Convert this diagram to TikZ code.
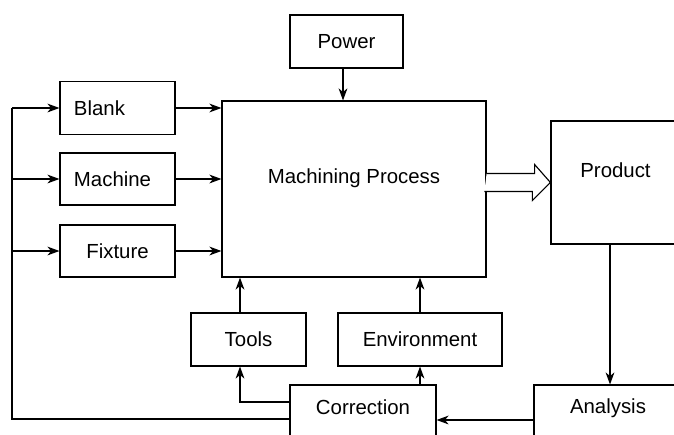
\documentclass[tikz,border=0pt]{standalone}
\usepackage{fontspec}
\setmainfont{Liberation Sans}
\usetikzlibrary{arrows.meta}

\tikzset{
  txt/.style={font=\fontsize{14.5}{17}\selectfont},
  box/.style={draw, line width=0.8pt, inner sep=0pt, txt},
  leftbox/.style={box, inner xsep=0.35cm, text width=2.175cm, align=left},
  line/.style={line width=0.8pt},
  flow/.style={line, -{Stealth[length=0.3cm, width=0.22cm, inset=0.09cm]}},
}

\begin{document}
\begin{tikzpicture}[x=0.025cm, y=-0.025cm]
\clip (0,0) rectangle (674,434);

% boxes
\node[box, minimum width=2.825cm, minimum height=1.325cm] (power) at (346.5,41.5) {Power};
\node[box, minimum width=6.6cm, minimum height=4.4cm,
  label={[txt, yshift=0.275cm]center:Machining Process}] (proc) at (354,189) {};
\node[leftbox, minimum width=2.875cm, minimum height=1.325cm] (blank) at (117.5,108) {Blank};
\node[leftbox, minimum width=2.875cm, minimum height=1.3cm] (machine) at (117.5,179) {Machine};
\node[box, minimum width=2.875cm, minimum height=1.3cm] (fixture) at (117.5,251) {Fixture};
\node[box, minimum width=2.875cm, minimum height=1.325cm] (tools) at (248.5,339.5) {Tools};
\node[box, minimum width=4.1cm, minimum height=1.325cm] (env) at (420,339.5) {Environment};
\node[box, minimum width=3.65cm, minimum height=1.325cm,
  label={[txt, yshift=0.1cm]center:Correction}] (corr) at (363,411.5) {};
\node[box, minimum width=3.7cm, minimum height=1.325cm,
  label={[txt, yshift=0.08cm]center:Analysis}] (anal) at (608,411.5) {};
\node[box, minimum width=3.225cm, minimum height=3.075cm,
  label={[txt, yshift=0.3cm]center:Product}] (prod) at (615.5,182.5) {};

% inputs
\draw[flow] (power.south -| 343,0) -- (proc.north -| 343,0);
\draw[flow] (blank.east) -- (blank.east -| proc.west);
\draw[flow] (machine.east) -- (machine.east -| proc.west);
\draw[flow] (fixture.east) -- (fixture.east -| proc.west);
\draw[flow] (tools.north -| 240,0) -- (proc.south -| 240,0);
\draw[flow] (env.north) -- (env.north |- proc.south);

% output
\coordinate (tip) at (prod.west);
\coordinate (tail) at (proc.east |- tip);
\draw[line, fill=white] (tail) ++(0,-9) -- ++(48,0) -- ++(0,-9) -- (tip)
  -- ++(-18,18) -- ++(0,-9) -- ++(-48,0);

% feedback
\draw[flow] (prod.south -| 610,0) -- (anal.north -| 610,0);
\draw[flow] (anal.west |- 0,420) -- (corr.east |- 0,420);
\draw[flow] (corr.north -| env.south) -- (env.south);
\draw[flow] (corr.west |- 0,402) -| (tools.south -| 240,0);

\coordinate (fbtop) at (12,108);
\draw[line] (corr.west |- 0,419) -| (fbtop);
\draw[flow] (fbtop) -- (blank.west);
\draw[flow] (fbtop |- machine.west) -- (machine.west);
\draw[flow] (fbtop |- fixture.west) -- (fixture.west);

\end{tikzpicture}
\end{document}
